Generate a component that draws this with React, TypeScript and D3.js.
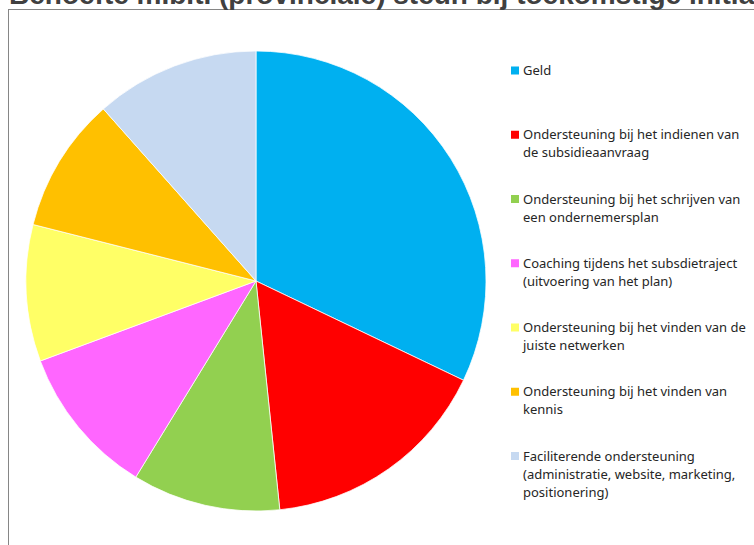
import React from "react";
import * as d3 from "d3";

const categories: string[][] = [
  ["Geld"],
  ["Ondersteuning bij het indienen van", "de subsidieaanvraag"],
  ["Ondersteuning bij het schrijven van", "een ondernemersplan"],
  ["Coaching tijdens het subsdietraject", "(uitvoering van het plan)"],
  ["Ondersteuning bij het vinden van de", "juiste netwerken"],
  ["Ondersteuning bij het vinden van", "kennis"],
  ["Faciliterende ondersteuning", "(administratie, website, marketing,", "positionering)"],
];
const values: number[] = [32.1, 16.25, 10.4, 10.6, 9.6, 9.5, 11.55];
const colors: string[] = ["#00B0F0", "#FF0000", "#92D050", "#FF66FF", "#FFFF66", "#FFC000", "#C6D9F1"];
const title = "Behoefte m.b.t. (provinciale) steun bij toekomstige initiatieven";

export default function App() {
  const W = 754, H = 545;
  const cx = 256, cy = 281, r = 230;
  const pie = d3.pie<number>().sort(null).value((d) => d)(values);
  const arc = d3.arc<d3.PieArcDatum<number>>().innerRadius(0).outerRadius(r);
  const legendY = d3.scaleLinear().domain([0, categories.length - 1]).range([70.5, 456]);
  return (
    <svg
      width={W}
      height={H}
      style={{ position: "fixed", left: 0, top: 0, background: "#fff" }}
    >
      <rect x={0} y={0} width={W} height={H} fill="#fff" />
      <rect x={8.5} y={9.5} width={W + 10} height={H + 10} fill="none" stroke="#868686" strokeWidth={1} />
      <text
        x={9}
        y={4}
        fontFamily="Liberation Sans, Arial, sans-serif"
        fontWeight="bold"
        fontSize={28}
        fill="#404040"
      >
        {title}
      </text>
      <g transform={`translate(${cx},${cy})`}>
        {pie.map((p, i) => (
          <path key={i} d={arc(p) || ""} fill={colors[i]} stroke="#fff" strokeWidth={0.75} />
        ))}
      </g>
      <g fontFamily="Noto Sans, Open Sans, sans-serif" fontSize={13} fill="#262626">
        {categories.map((lines, i) => {
          const y0 = legendY(i);
          return (
            <g key={i}>
              <rect x={511} y={y0 - 4} width={8} height={8} fill={colors[i]} />
              {lines.map((l, j) => (
                <text key={j} x={523} y={y0 + j * 18} dy="0.35em">
                  {l}
                </text>
              ))}
            </g>
          );
        })}
      </g>
    </svg>
  );
}
